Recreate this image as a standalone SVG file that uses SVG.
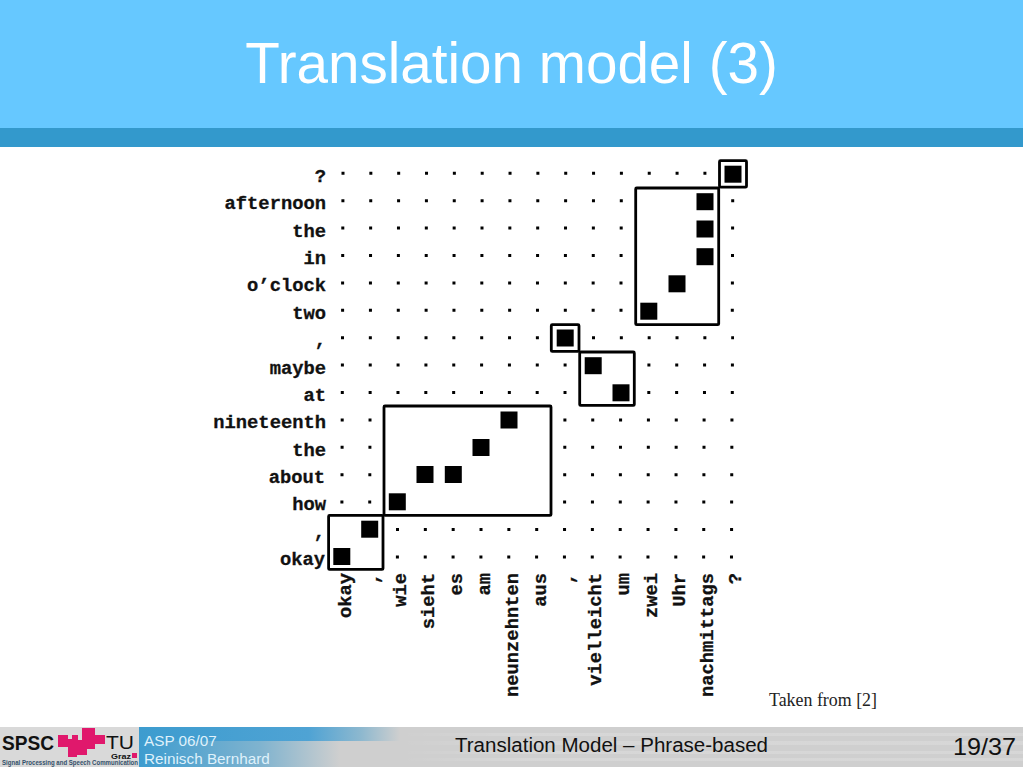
<svg xmlns="http://www.w3.org/2000/svg" width="1023" height="767" viewBox="0 0 1023 767">
<defs>
<linearGradient id="fb" x1="139" y1="0" x2="400" y2="0" gradientUnits="userSpaceOnUse"><stop offset="0" stop-color="#3d9ccf"/><stop offset="0.65" stop-color="#4fa3d4"/><stop offset="0.85" stop-color="#8db8cf"/><stop offset="1" stop-color="#cfcfcf"/></linearGradient>
<linearGradient id="fl" x1="139" y1="0" x2="340" y2="0" gradientUnits="userSpaceOnUse"><stop offset="0" stop-color="#3d9ccf"/><stop offset="0.6" stop-color="#7fb3cf"/><stop offset="1" stop-color="#cfcfcf"/></linearGradient>
<linearGradient id="fs" x1="400" y1="0" x2="520" y2="0" gradientUnits="userSpaceOnUse"><stop offset="0" stop-color="#fff" stop-opacity="0"/><stop offset="1" stop-color="#fff" stop-opacity=".16"/></linearGradient>
<linearGradient id="fv" x1="0" y1="741" x2="0" y2="767" gradientUnits="userSpaceOnUse"><stop offset="0" stop-color="#cfcfcf" stop-opacity="0"/><stop offset="1" stop-color="#cfcfcf" stop-opacity=".0"/></linearGradient>
</defs>
<style>
.l{font:bold 18.8px "Liberation Mono",monospace;fill:#111;text-anchor:end;stroke:#111;stroke-width:.3}
.box{fill:none;stroke:#000;stroke-width:2.8;stroke-linejoin:round}
.s{fill:#000}
.dots{fill:none;stroke:#000;stroke-width:3;stroke-dasharray:3 24.84}
.f{font-family:"Liberation Sans",Arial,sans-serif}
.st{fill:url(#fs)}
</style>
<rect width="1023" height="767" fill="#fff"/>
<g id="header"><rect width="1023" height="128" fill="#66c8ff"/><rect y="128" width="1023" height="19" fill="#3399cc"/>
<text class="f" x="511.500" y="83" font-size="56.600" fill="#fff" text-anchor="middle">Translation model (3)</text></g>
<g id="row-labels">
<text class="l" x="326" y="182">?</text><text class="l" x="326" y="209">afternoon</text><text class="l" x="326" y="237">the</text><text class="l" x="326" y="264">in</text><text class="l" x="326" y="291">o’clock</text><text class="l" x="326" y="319">two</text><text class="l" x="326" y="346">,</text><text class="l" x="326" y="374">maybe</text><text class="l" x="326" y="401">at</text><text class="l" x="326" y="428">nineteenth</text><text class="l" x="326" y="456">the</text><text class="l" x="325" y="483">about</text><text class="l" x="326" y="510">how</text><text class="l" x="325" y="538">,</text><text class="l" x="325" y="565">okay</text>
</g>
<g id="col-labels">
<text class="l" transform="translate(351,573) rotate(-90)">okay</text><text class="l" transform="translate(379,573) rotate(-90)">,</text><text class="l" transform="translate(406,573) rotate(-90)">wie</text><text class="l" transform="translate(434,573) rotate(-90)">sieht</text><text class="l" transform="translate(462,573) rotate(-90)">es</text><text class="l" transform="translate(490,573) rotate(-90)">am</text><text class="l" transform="translate(518,573) rotate(-90)">neunzehnten</text><text class="l" transform="translate(546,573) rotate(-90)">aus</text><text class="l" transform="translate(574,573) rotate(-90)">,</text><text class="l" transform="translate(601,573) rotate(-90)">vielleicht</text><text class="l" transform="translate(629,573) rotate(-90)">um</text><text class="l" transform="translate(657,573) rotate(-90)">zwei</text><text class="l" transform="translate(685,573) rotate(-90)">Uhr</text><text class="l" transform="translate(713,573) rotate(-90)">nachmittags</text><text class="l" transform="translate(741,573) rotate(-90)">?</text>
</g>
<g id="dots" class="dots">
<path d="M341.5 173.300h364.900"/>
<path d="M341.400 200.700h281.400M731.200 200.700h3"/>
<path d="M341.300 228.100h281.400M731.100 228.100h3"/>
<path d="M341.200 255.500h281.400M731 255.500h3"/>
<path d="M341.100 282.900h281.400M730.900 282.900h3"/>
<path d="M341.100 310.300h281.400M730.800 310.300h3"/>
<path d="M341 337.700h197.900M592 337.700h142"/>
<path d="M340.900 365.100h225.700M647.400 365.100h86.500"/>
<path d="M340.800 392.500h225.700M647.300 392.500h86.500"/>
<path d="M340.700 419.900h30.800M563.400 419.900h170.100"/>
<path d="M340.600 447.300h30.800M563.300 447.300h170.100"/>
<path d="M340.500 474.700h30.800M563.200 474.700h170.100"/>
<path d="M340.400 502.100h30.800M563.100 502.100h170.100"/>
<path d="M396 529.500h337.100"/>
<path d="M395.900 556.900h337.100"/>
</g>
<g id="cells" class="s">
<rect x="724.500" y="165.700" width="17" height="17"/><rect x="696.500" y="193.200" width="17" height="17"/><rect x="696.500" y="220.500" width="17" height="17"/><rect x="696.500" y="248.200" width="17" height="17"/><rect x="668.500" y="275.300" width="17" height="17"/><rect x="640.300" y="302.700" width="17" height="17"/><rect x="556.700" y="329.500" width="17" height="17"/><rect x="584.700" y="357.200" width="17" height="17"/><rect x="612.500" y="384.300" width="17" height="17"/><rect x="500.500" y="411.500" width="17" height="17"/><rect x="472.500" y="439" width="17" height="17"/><rect x="416.500" y="466" width="17" height="17"/><rect x="444.800" y="466" width="17" height="17"/><rect x="388.800" y="493.300" width="17" height="17"/><rect x="361.200" y="520.700" width="17" height="17"/><rect x="333.300" y="548" width="17" height="17"/>
</g>
<g id="connectors">
<rect class="box" x="719.500" y="160.700" width="27" height="26.500" rx="1"/>
<rect class="box" x="635.700" y="188" width="83" height="136.700" rx="1"/>
<rect class="box" x="551.300" y="324.700" width="27.700" height="26.700" rx="1"/>
<rect class="box" x="579.700" y="352" width="54.600" height="53.400" rx="1"/>
<rect class="box" x="384" y="406" width="167" height="109.400" rx="1"/>
<rect class="box" x="328.600" y="515.400" width="54.400" height="54" rx="1"/>
</g>
<text x="769" y="706" font-size="18" font-family="'Liberation Serif',serif" fill="#222" textLength="108" lengthAdjust="spacingAndGlyphs">Taken from [2]</text>
<g id="footer">
<rect y="727" width="1023" height="40" fill="#cfcfcf"/>
<rect y="733" x="400" width="623" height="3" class="st"/><rect y="741" x="400" width="623" height="4" class="st"/><rect y="751" x="400" width="623" height="3" class="st"/><rect y="758" x="400" width="623" height="3" class="st"/>
<rect x="139" y="727" width="261" height="14" fill="url(#fb)"/>
<rect x="139" y="741" width="201" height="26" fill="url(#fl)"/>
<rect y="727" width="139" height="40" fill="#d9d9d9"/>
<text class="f" x="2" y="749.500" font-size="20" font-weight="700" fill="#111" textLength="52" lengthAdjust="spacingAndGlyphs">SPSC</text>
<text class="f" x="106" y="749" font-size="19" fill="#111" textLength="28" lengthAdjust="spacingAndGlyphs">TU</text>
<text class="f" x="111" y="758.500" font-size="7" font-weight="700" fill="#111" textLength="20" lengthAdjust="spacingAndGlyphs">Graz</text>
<rect x="132" y="753" width="5" height="5" fill="#e0186c"/>
<path fill="#e0186c" d="M58 735H68V739H72V735H78V740H82V728H95V735H105V744H95V749H87V755H77V757H68V747H58Z"/>
<text class="f" x="2" y="764.500" font-size="6.500" font-weight="700" fill="#33506a" textLength="136" lengthAdjust="spacingAndGlyphs">Signal Processing and Speech Communication</text>
<text class="f" x="144" y="746" font-size="15.300" fill="#dff1fb">ASP 06/07</text>
<text class="f" x="144" y="763.500" font-size="15.300" fill="#dff1fb">Reinisch Bernhard</text>
<text class="f" x="455" y="752" font-size="20" fill="#111" textLength="313" lengthAdjust="spacingAndGlyphs">Translation Model – Phrase-based</text>
<text class="f" x="953" y="755" font-size="24" fill="#111" textLength="63" lengthAdjust="spacingAndGlyphs">19/37</text>
</g>
</svg>
